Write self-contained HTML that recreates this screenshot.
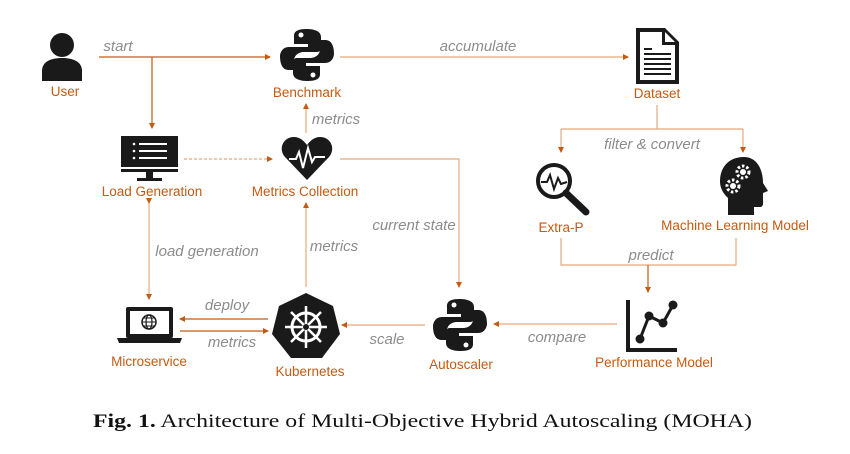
<!DOCTYPE html>
<html><head><meta charset="utf-8"><style>
html,body{margin:0;padding:0;background:#fff;}
svg{display:block;}
.l{font-family:"Liberation Sans",sans-serif;font-size:13.5px;fill:#c55a11;text-anchor:middle;}
.e{font-family:"Liberation Sans",sans-serif;font-size:15px;fill:#8c8c8c;font-style:italic;text-anchor:middle;}
.ln{stroke:#e9a87c;stroke-width:1.2;fill:none;}
.ld{stroke:#c55a11;stroke-width:1.2;fill:none;}
</style></head><body>
<svg width="850" height="454" viewBox="0 0 850 454" xmlns="http://www.w3.org/2000/svg">
<defs>
<marker id="a" markerWidth="6" markerHeight="6" refX="5" refY="3" orient="auto" markerUnits="userSpaceOnUse"><path d="M0,0 L6,3 L0,6 z" fill="#c55a11"/></marker>
<g id="py">
<path d="M-1,-26 C-14,-26 -13,-20 -13,-18 L-13,-11 L1,-11 L1,-8 L-18,-8 C-26,-8 -27,0 -27,1 C-27,10 -24,15 -18,15 L-13,15 L-13,6 C-13,0 -8,-3 -3,-3 L10,-3 C14,-3 14,-7 14,-9 L14,-18 C14,-23 9,-26 -1,-26 z" fill="#1a1a1a"/>
<path d="M1,26 C14,26 13,20 13,18 L13,11 L-1,11 L-1,8 L18,8 C26,8 27,0 27,-1 C27,-10 24,-15 18,-15 L13,-15 L13,-6 C13,0 8,3 3,3 L-10,3 C-14,3 -14,7 -14,9 L-14,18 C-14,23 -9,26 1,26 z" fill="#1a1a1a"/>
<circle cx="-6" cy="-20" r="2.5" fill="#fff"/><circle cx="6" cy="20" r="2.5" fill="#fff"/>
</g>
</defs>

<!-- User -->
<circle cx="62" cy="45" r="12" fill="#1a1a1a"/>
<path d="M42,81 L42,71 C42,61 52,58 62,58 C72,58 82,61 82,71 L82,81 z" fill="#1a1a1a"/>
<text class="l" x="65" y="96">User</text>
<text class="e" x="118" y="51">start</text>
<path class="ld" d="M99,57 L270,57" marker-end="url(#a)"/>
<path class="ld" d="M152,57 L152,128" marker-end="url(#a)"/>

<!-- Benchmark -->
<use href="#py" x="307" y="55"/>
<text class="l" x="307" y="97">Benchmark</text>
<path class="ln" d="M340,57 L628,57" marker-end="url(#a)"/>
<text class="e" x="478" y="51">accumulate</text>

<!-- Dataset -->
<path d="M636,28 L665,28 L679,42 L679,84 L636,84 z" fill="#1a1a1a"/>
<path d="M640,32 L662,32 L662,45 L675,45 L675,80 L640,80 z" fill="#fff"/>
<path d="M665,32 L675,42 L665,42 z" fill="#fff"/>
<rect x="644" y="48" width="8" height="2" fill="#1a1a1a"/>
<rect x="644" y="53" width="27" height="2" fill="#1a1a1a"/>
<rect x="644" y="58" width="27" height="2" fill="#1a1a1a"/>
<rect x="644" y="63" width="27" height="2" fill="#1a1a1a"/>
<rect x="644" y="68" width="27" height="2" fill="#1a1a1a"/>
<rect x="644" y="73" width="27" height="2" fill="#1a1a1a"/>
<text class="l" x="657" y="98">Dataset</text>
<path class="ln" d="M657,105 L657,129 M561,129 L743,129"/>
<path class="ln" d="M561,129 L561,152" marker-end="url(#a)"/>
<path class="ln" d="M743,129 L743,152" marker-end="url(#a)"/>
<text class="e" x="652" y="149">filter &amp; convert</text>

<!-- Extra-P -->
<circle cx="554" cy="181" r="16" fill="none" stroke="#1a1a1a" stroke-width="4"/>
<path d="M566,193 L586,212" stroke="#1a1a1a" stroke-width="7" stroke-linecap="round"/>
<path d="M541,182 L547,182 L550,175 L554,189 L558,178 L561,184 L567,182" stroke="#1a1a1a" stroke-width="2" fill="none"/>
<text class="l" x="561" y="232">Extra-P</text>

<!-- ML head -->
<path d="M744,157 C728,157 720,168 720,181 C720,190 725,195 728,198 L728,215 L754,215 L754,207 L760,207 C764,207 763,202 763,198 L763,193 L768,191 L763,183 C763,168 756,157 744,157 z" fill="#1a1a1a"/>
<circle cx="743" cy="172" r="6" fill="none" stroke="#fff" stroke-width="3" stroke-dasharray="2.5 2"/>
<circle cx="743" cy="172" r="3" fill="#fff"/>
<circle cx="733" cy="186" r="6" fill="none" stroke="#fff" stroke-width="3" stroke-dasharray="2.5 2"/>
<circle cx="733" cy="186" r="3" fill="#fff"/>
<text class="l" x="735" y="230">Machine Learning Model</text>
<path class="ln" d="M561,238 L561,265 L736,265 L736,238"/>
<path class="ld" d="M648,265 L648,292" marker-end="url(#a)"/>
<text class="e" x="651" y="260">predict</text>

<!-- Performance Model -->
<path d="M628,300 L628,350 L677,350" stroke="#1a1a1a" stroke-width="4" fill="none"/>
<path d="M640,339 L649,316 L663,323 L673,305" stroke="#1a1a1a" stroke-width="3" fill="none"/>
<circle cx="640" cy="339" r="4.5" fill="#1a1a1a"/><circle cx="649" cy="316" r="4.5" fill="#1a1a1a"/>
<circle cx="663" cy="323" r="4.5" fill="#1a1a1a"/><circle cx="673" cy="305" r="4.5" fill="#1a1a1a"/>
<text class="l" x="654" y="367">Performance Model</text>
<path class="ln" d="M617,324 L494,324" marker-end="url(#a)"/>
<text class="e" x="557" y="342">compare</text>

<!-- Autoscaler -->
<use href="#py" x="460" y="325"/>
<text class="l" x="461" y="369">Autoscaler</text>
<path class="ln" d="M340,159 L459,159 L459,287" marker-end="url(#a)"/>
<text class="e" x="414" y="230">current state</text>
<path class="ln" d="M425,325 L342,325" marker-end="url(#a)"/>
<text class="e" x="387" y="344">scale</text>

<!-- Kubernetes -->
<polygon points="306,293 333,306 340,334 322,358 291,358 272,334 279,306" fill="#1a1a1a"/>
<circle cx="306" cy="327" r="14" fill="none" stroke="#fff" stroke-width="3"/>
<g stroke="#fff" stroke-width="2.5">
<path d="M306,306 L306,348 M285,327 L327,327 M291,312 L321,342 M321,312 L291,342"/>
</g>
<circle cx="306" cy="327" r="3" fill="#1a1a1a"/>
<text class="l" x="310" y="376">Kubernetes</text>
<path class="ln" d="M306,287 L306,203" marker-end="url(#a)"/>
<text class="e" x="334" y="251">metrics</text>

<!-- Metrics Collection -->
<path d="M307,180 L285,157 C278,149 283,137 294,137 C300,137 304,141 307,145 C310,141 314,137 320,137 C331,137 336,149 329,157 z" fill="#1a1a1a"/>
<path d="M289,159 L296,159 L299,152 L303,168 L308,148 L312,162 L315,157 L325,157" stroke="#fff" stroke-width="2" fill="none"/>
<text class="l" x="305" y="196">Metrics Collection</text>
<path class="ln" d="M306,133 L306,104" marker-end="url(#a)"/>
<text class="e" x="336" y="124">metrics</text>

<!-- Load Generation -->
<rect x="121" y="136" width="57" height="31" fill="#1a1a1a"/>
<rect x="121" y="169" width="57" height="3" fill="#1a1a1a"/>
<rect x="146" y="172" width="7" height="6" fill="#1a1a1a"/>
<rect x="137" y="178" width="25" height="3" fill="#1a1a1a"/>
<g fill="#fff"><circle cx="134" cy="144" r="1.3"/><circle cx="134" cy="151" r="1.3"/><circle cx="134" cy="158" r="1.3"/>
<rect x="139" y="143" width="28" height="2"/><rect x="139" y="150" width="28" height="2"/><rect x="139" y="157" width="28" height="2"/></g>
<text class="l" x="152" y="196">Load Generation</text>
<path class="ln" d="M184,159 L272,159" stroke-dasharray="3 2" marker-end="url(#a)"/>
<path class="ln" d="M149,203 L149,299" marker-start="url(#a)" marker-end="url(#a)"/>
<text class="e" x="207" y="256">load generation</text>

<!-- Microservice -->
<rect x="126" y="307" width="47" height="31" rx="2" fill="#1a1a1a"/>
<rect x="130" y="311" width="39" height="23" fill="#fff"/>
<path d="M117,338 L182,338 L180,343 L119,343 z" fill="#1a1a1a"/>
<circle cx="149" cy="322" r="7" fill="none" stroke="#1a1a1a" stroke-width="1.5"/>
<ellipse cx="149" cy="322" rx="3" ry="7" fill="none" stroke="#1a1a1a" stroke-width="1.2"/>
<path d="M142,322 L156,322 M143,318 L155,318 M143,326 L155,326" stroke="#1a1a1a" stroke-width="1"/>
<text class="l" x="149" y="366">Microservice</text>
<path class="ld" d="M268,319 L180,319" marker-end="url(#a)"/>
<path class="ld" d="M180,331 L268,331" marker-end="url(#a)"/>
<text class="e" x="227" y="310">deploy</text>
<text class="e" x="232" y="347">metrics</text>

<!-- caption -->
<text x="93" y="427" font-family="Liberation Serif,serif" font-size="19" fill="#111" textLength="659" lengthAdjust="spacingAndGlyphs"><tspan font-weight="bold">Fig. 1.</tspan> Architecture of Multi-Objective Hybrid Autoscaling (MOHA)</text>
</svg>
</body></html>
